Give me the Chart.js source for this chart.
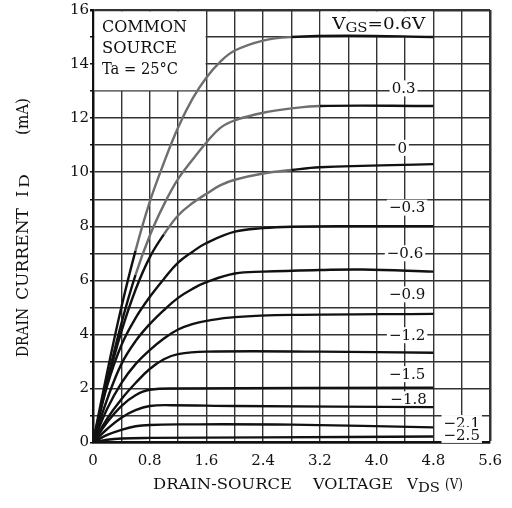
<!DOCTYPE html>
<html>
<head>
<meta charset="utf-8">
<script src="https://cdn.jsdelivr.net/npm/chart.js@4"></script>
<style>
  body { margin: 0; background: #fff; }
  #wrap { width: 512px; height: 508px; position: relative; }
</style>
</head>
<body>
<div id="wrap"><canvas id="chart"></canvas></div>
<script>
// ID - VDS curves, one array per gate voltage: [VDS (V), ID (mA)]
const id06 = [[0,0],[0.2,2.6],[0.4,5.0],[0.6,7.1],[0.8,8.9],[1.0,10.35],[1.2,11.65],[1.4,12.7],[1.6,13.5],[1.8,14.1],[2.0,14.5],[2.4,14.87],[2.8,15.0],[3.6,15.05],[4.8,15.0]]
const id03 = [[0,0],[0.2,2.3],[0.4,4.4],[0.6,6.2],[0.8,7.65],[1.0,8.8],[1.2,9.75],[1.4,10.45],[1.6,11.1],[1.8,11.65],[2.0,11.92],[2.4,12.2],[2.8,12.36],[3.2,12.45],[4.8,12.45]]
const id0 = [[0,0],[0.2,2.2],[0.4,4.1],[0.6,5.65],[0.8,6.85],[1.0,7.7],[1.2,8.4],[1.4,8.85],[1.6,9.2],[1.8,9.52],[2.0,9.72],[2.4,9.95],[2.8,10.08],[3.2,10.18],[4.8,10.3]]
const idm03 = [[0,0],[0.2,2.1],[0.4,3.6],[0.6,4.6],[0.8,5.38],[1.0,6.05],[1.2,6.65],[1.4,7.05],[1.6,7.38],[2.0,7.8],[2.4,7.93],[2.8,7.98],[3.6,8.0],[4.8,8.0]]
const idm06 = [[0,0],[0.2,1.6],[0.4,2.9],[0.6,3.75],[0.8,4.38],[1.0,4.9],[1.2,5.35],[1.4,5.68],[1.6,5.93],[2.0,6.25],[2.4,6.32],[3.2,6.38],[3.8,6.4],[4.8,6.32]]
const idm09 = [[0,0],[0.2,1.25],[0.4,2.2],[0.6,2.9],[0.8,3.42],[1.0,3.85],[1.2,4.18],[1.4,4.38],[1.6,4.5],[2.0,4.64],[2.8,4.72],[4.8,4.76]]
const idm12 = [[0,0],[0.2,0.88],[0.4,1.6],[0.6,2.2],[0.8,2.72],[1.0,3.08],[1.2,3.27],[1.6,3.36],[3.2,3.36],[4.8,3.32]]
const idm15 = [[0,0],[0.2,0.75],[0.4,1.35],[0.6,1.75],[0.8,1.95],[1.2,2.0],[4.8,2.03]]
const idm18 = [[0,0],[0.2,0.5],[0.4,0.92],[0.6,1.2],[0.8,1.35],[1.1,1.38],[2.0,1.35],[4.8,1.31]]
const idm21 = [[0,0],[0.2,0.28],[0.4,0.47],[0.6,0.6],[0.8,0.65],[1.2,0.67],[2.8,0.66],[4.8,0.56]]
const idm25 = [[0,0],[0.2,0.1],[0.4,0.15],[0.8,0.17],[2.4,0.19],[4.8,0.22]]

// curve labels: text, VDS, ID (label centre)
const curveLabels = [
  ['0.3', 4.38, 13.1], ['0', 4.36, 10.9], ['\u22120.3', 4.43, 8.69], ['\u22120.6', 4.4, 7.0],
  ['\u22120.9', 4.43, 5.48], ['\u22121.2', 4.43, 3.97], ['\u22121.5', 4.43, 2.53],
  ['\u22121.8', 4.45, 1.6], ['\u22122.1', 5.2, 0.72], ['\u22122.5', 5.2, 0.28]
]
const legendLines = ['COMMON', 'SOURCE', 'Ta = 25\u00b0C']

const BLACK = '#111'
const GRAY = '#6e6e6e'
const SERIF = '"DejaVu Serif", "Liberation Serif", serif'

function toPts(arr) { return arr.map(p => ({x: p[0], y: p[1]})) }

// draws a list of text parts squeezed/stretched to a given width
function drawFit(ctx, parts, x, y, w) {
  let total = 0
  parts.forEach(p => { ctx.font = p.font; total += ctx.measureText(p.t).width })
  ctx.save()
  ctx.translate(x, y)
  ctx.scale(w / total, 1)
  let cx = 0
  parts.forEach(p => {
    ctx.font = p.font
    ctx.fillText(p.t, cx, p.dy || 0)
    cx += ctx.measureText(p.t).width
  })
  ctx.restore()
}

function grayTop(limitX, limitY) {
  return {
    borderColor: c => (c.p0.parsed.x < limitX && c.p1.parsed.y > limitY) ? GRAY : BLACK
  }
}

const series = [
  {d: id06, seg: grayTop(2.6, 7.5)},
  {d: id03, seg: grayTop(3.2, 7.5)},
  {d: id0, seg: grayTop(2.8, 7.8)},
  {d: idm03}, {d: idm06}, {d: idm09}, {d: idm12},
  {d: idm15}, {d: idm18}, {d: idm21}, {d: idm25}
]

const overlay = {
  id: 'overlay',
  beforeDatasetsDraw(chart) {
    const {ctx, scales: {x, y}} = chart
    ctx.save()
    ctx.fillStyle = '#fff'
    // legend box (x 0..1.6, y 13..16)
    let l = x.getPixelForValue(0) + 1.5, r = x.getPixelForValue(1.6) - 0.8
    let t = y.getPixelForValue(16) + 1.5, b = y.getPixelForValue(13) - 0.8
    ctx.fillRect(l, t, r - l, b - t)
    // VGS box (x 3.2..4.8, above top curve)
    l = x.getPixelForValue(3.2) + 0.8; r = x.getPixelForValue(4.8) - 0.8
    b = y.getPixelForValue(15.0)
    ctx.fillRect(l, t, r - l, b - t)

    ctx.fillStyle = BLACK
    ctx.textAlign = 'left'
    ctx.textBaseline = 'middle'
    const lx = x.getPixelForValue(0) + 9
    const ly = [28, 48.5, 70]
    const lw = [85, 75, 76]
    legendLines.forEach((s, i) => drawFit(ctx, [{t: s, font: '16px ' + SERIF}], lx, ly[i], lw[i]))

    // VGS = 0.6V label
    const vx = x.getPixelForValue(4.03), vy = y.getPixelForValue(15.45)
    drawFit(ctx, [
      {t: 'V', font: '16px ' + SERIF},
      {t: 'GS', font: '13px ' + SERIF, dy: 4},
      {t: '=0.6V', font: '16px ' + SERIF}
    ], vx - 46.5, vy, 93)

    // curve labels with white background
    ctx.font = '15px ' + SERIF
    ctx.textAlign = 'center'
    curveLabels.forEach(([s, vds, id]) => {
      const px = x.getPixelForValue(vds), py = y.getPixelForValue(id)
      const w = ctx.measureText(s).width
      ctx.fillStyle = '#fff'
      ctx.fillRect(px - w / 2 - 2, py - 8, w + 4, 16)
      ctx.fillStyle = BLACK
      ctx.fillText(s, px, py + 1)
    })
    ctx.restore()
  },
  afterDraw(chart) {
    const ctx = chart.ctx
    ctx.save()
    ctx.fillStyle = BLACK
    ctx.textAlign = 'left'
    ctx.textBaseline = 'middle'
    // x title
    const f = '14px ' + SERIF, fs = '12px ' + SERIF
    drawFit(ctx, [{t: 'DRAIN-SOURCE', font: f}], 153, 485.5, 139)
    drawFit(ctx, [{t: 'VOLTAGE', font: f}], 313, 485.5, 80)
    drawFit(ctx, [{t: 'V', font: f}], 407, 485.5, 11)
    drawFit(ctx, [{t: 'DS', font: fs}], 418, 488.5, 22)
    drawFit(ctx, [{t: '(V)', font: f}], 445, 485.5, 18)
    // y title, rotated
    ctx.translate(23.5, 0)
    ctx.rotate(-Math.PI / 2)
    const g = '16px ' + SERIF, gs = '13px ' + SERIF
    drawFit(ctx, [{t: 'DRAIN', font: g}], -357, 0, 49)
    drawFit(ctx, [{t: 'CURRENT', font: g}], -300, 0, 92)
    drawFit(ctx, [{t: 'I', font: g}], -197, 0, 6)
    drawFit(ctx, [{t: 'D', font: gs}], -188, 2.5, 14)
    drawFit(ctx, [{t: '(mA)', font: g}], -135, 0, 37)
    ctx.restore()
  }
}

Chart.defaults.font.family = SERIF
Chart.defaults.color = BLACK

new Chart(document.getElementById('chart'), {
  type: 'line',
  data: {
    datasets: series.map(s => ({
      data: toPts(s.d),
      borderColor: BLACK,
      borderWidth: 2.4,
      pointRadius: 0,
      tension: 0.4,
      fill: false,
      segment: s.seg
    }))
  },
  options: {
    responsive: true,
    maintainAspectRatio: false,
    animation: false,
    layout: {padding: {top: 8.5, right: 17.5, left: 0, bottom: 0}},
    plugins: {legend: {display: false}, tooltip: {enabled: false}},
    scales: {
      x: {
        type: 'linear',
        min: 0, max: 5.6,
        afterFit: s => { s.height = 65.5 },
        border: {display: true, color: BLACK, width: 2.5},
        grid: {
          color: '#333',
          lineWidth: c => Math.abs(c.tick.value - 5.6) < 1e-6 ? 2.5 : 1.4,
          drawTicks: false
        },
        ticks: {
          stepSize: 0.4,
          autoSkip: false,
          maxRotation: 0,
          padding: 10,
          font: {size: 15},
          color: BLACK,
          callback: v => Math.round(v * 10) % 8 === 0 ? (v === 0 ? '0' : v.toFixed(1)) : ''
        }
      },
      y: {
        min: 0, max: 16,
        afterFit: s => { s.width = 93 },
        border: {display: true, color: BLACK, width: 2.5},
        grid: {
          color: '#333',
          lineWidth: c => c.tick.value === 16 ? 2.5 : 1.4,
          drawTicks: true,
          tickLength: 3,
          tickColor: BLACK
        },
        ticks: {
          stepSize: 1,
          autoSkip: false,
          padding: 1,
          font: {size: 15},
          color: BLACK,
          callback: v => v % 2 === 0 ? v : ''
        }
      }
    }
  },
  plugins: [overlay]
})
</script>
</body>
</html>
